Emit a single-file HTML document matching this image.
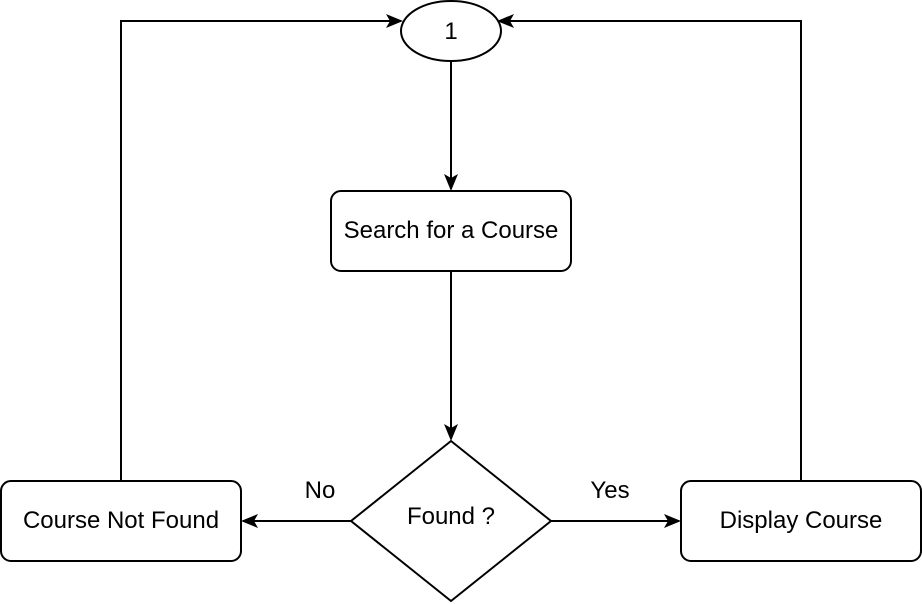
<!DOCTYPE html>
<html><head><meta charset="utf-8"><style>
html,body{margin:0;padding:0;background:#fff;}
svg{display:block;}
text{font-family:"Liberation Sans",Arial,sans-serif;font-size:24px;fill:#000;}
</style></head><body>
<svg width="922" height="604" viewBox="0 0 922 604" xmlns="http://www.w3.org/2000/svg">
<defs>
<marker id="a" markerWidth="18" markerHeight="16" refX="15" refY="8" orient="auto" markerUnits="userSpaceOnUse">
<path d="M0,1 L17,8 L0,15 L4,8 Z" fill="#000"/>
</marker>
</defs>
<g stroke="#000" stroke-width="2" fill="none">
<ellipse cx="451" cy="31" rx="50" ry="30" fill="#fff"/>
<rect x="331" y="191" width="240" height="80" rx="10" fill="#fff"/>
<polygon points="451,441 551,521 451,601 351,521" fill="#fff"/>
<rect x="1" y="481" width="240" height="80" rx="10" fill="#fff"/>
<rect x="681" y="481" width="240" height="80" rx="10" fill="#fff"/>
<line x1="451" y1="61" x2="451" y2="189" marker-end="url(#a)"/>
<line x1="451" y1="271" x2="451" y2="439" marker-end="url(#a)"/>
<line x1="351" y1="521" x2="243" y2="521" marker-end="url(#a)"/>
<line x1="551" y1="521" x2="679" y2="521" marker-end="url(#a)"/>
<polyline points="121,481 121,21 401,21" marker-end="url(#a)"/>
<polyline points="801,481 801,21 499,21" marker-end="url(#a)"/>
</g>
<g text-anchor="middle">
<text x="451" y="39">1</text>
<text x="451" y="238">Search for a Course</text>
<text x="451" y="524">Found ?</text>
<text x="121" y="528">Course Not Found</text>
<text x="801" y="528">Display Course</text>
<text x="320" y="498">No</text>
<text x="610" y="498">Yes</text>
</g>
</svg>
</body></html>
